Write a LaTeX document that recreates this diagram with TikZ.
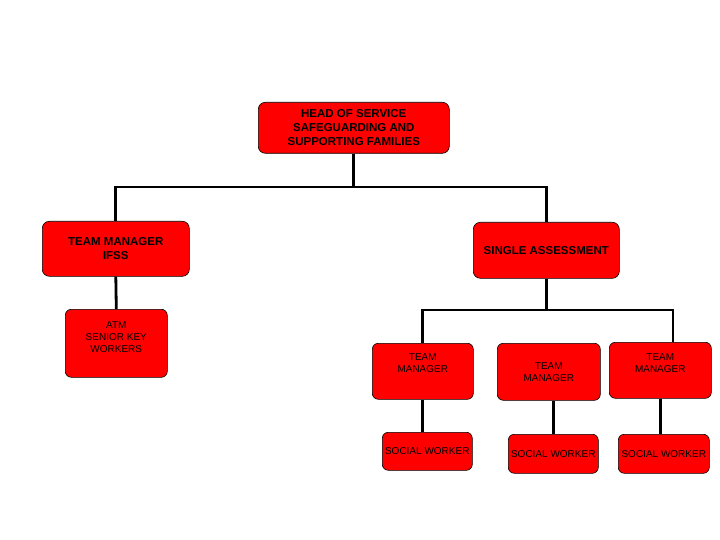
\documentclass[tikz,border=0pt]{standalone}
\usepackage{fontspec}
\setmainfont{Liberation Sans}
\usetikzlibrary{positioning}

\begin{document}
\begin{tikzpicture}[
 x=1pt,y=-1pt,
 unit/.style={draw=black,fill=red,rounded corners=7pt,line width=.6pt,align=center,inner sep=2pt,anchor=north west,font=\fontsize{11.5}{14}\selectfont\bfseries},
 post/.style={unit,rounded corners=6pt,font=\fontsize{10}{12}\selectfont},
 lift/.style={text depth=#1},
 link/.style={draw=black,line width=2.8pt}
]
\useasboundingbox (0,0) rectangle (720,540);

\node[unit,minimum width=191pt,minimum height=51pt] (head) at (258,102) {HEAD OF SERVICE\\SAFEGUARDING AND\\SUPPORTING FAMILIES};
\node[unit,minimum width=147pt,minimum height=55pt] (tmifss) at (42,221) {TEAM MANAGER\\IFSS};
\node[unit,minimum width=146pt,minimum height=56pt] (sa) at (473,222) {SINGLE ASSESSMENT};
\node[post,lift=12pt,minimum width=102pt,minimum height=68pt] (atm) at (65,309) {ATM\\SENIOR KEY\\WORKERS};
\node[post,lift=16pt,minimum width=101pt,minimum height=56pt] (tm1) at (372,343) {TEAM\\MANAGER};
\node[post,minimum width=103pt,minimum height=57pt] (tm2) at (497,343) {TEAM\\MANAGER};
\node[post,lift=14pt,minimum width=102pt,minimum height=56pt] (tm3) at (609,342) {TEAM\\MANAGER};
\node[post,minimum width=90pt,minimum height=38pt] (sw1) at (382,432) {SOCIAL WORKER};
\node[post,minimum width=90pt,minimum height=39pt] (sw2) at (508,434) {SOCIAL WORKER};
\node[post,minimum width=91pt,minimum height=39pt] (sw3) at (618,434) {SOCIAL WORKER};

\coordinate (busa) at (351,187);
\coordinate (busb) at (549,310);
\coordinate (busbr) at (673,310);
\draw[link] (head.south) -- (head.south |- busa);
\draw[link] (tmifss.north) |- (busa) -| (sa.north);
\draw[link] (tmifss.south) -- (atm.north);
\draw[link] (sa.south) -- (sa.south |- busb);
\draw[link] (tm1.north) |- (busbr) -- (busbr |- tm3.north);
\draw[link] (tm1.south) -- (tm1.south |- sw1.north);
\draw[link] (sw2.north) -- (sw2.north |- tm2.south);
\draw[link] (tm3.south) -- (tm3.south |- sw3.north);
\end{tikzpicture}
\end{document}
